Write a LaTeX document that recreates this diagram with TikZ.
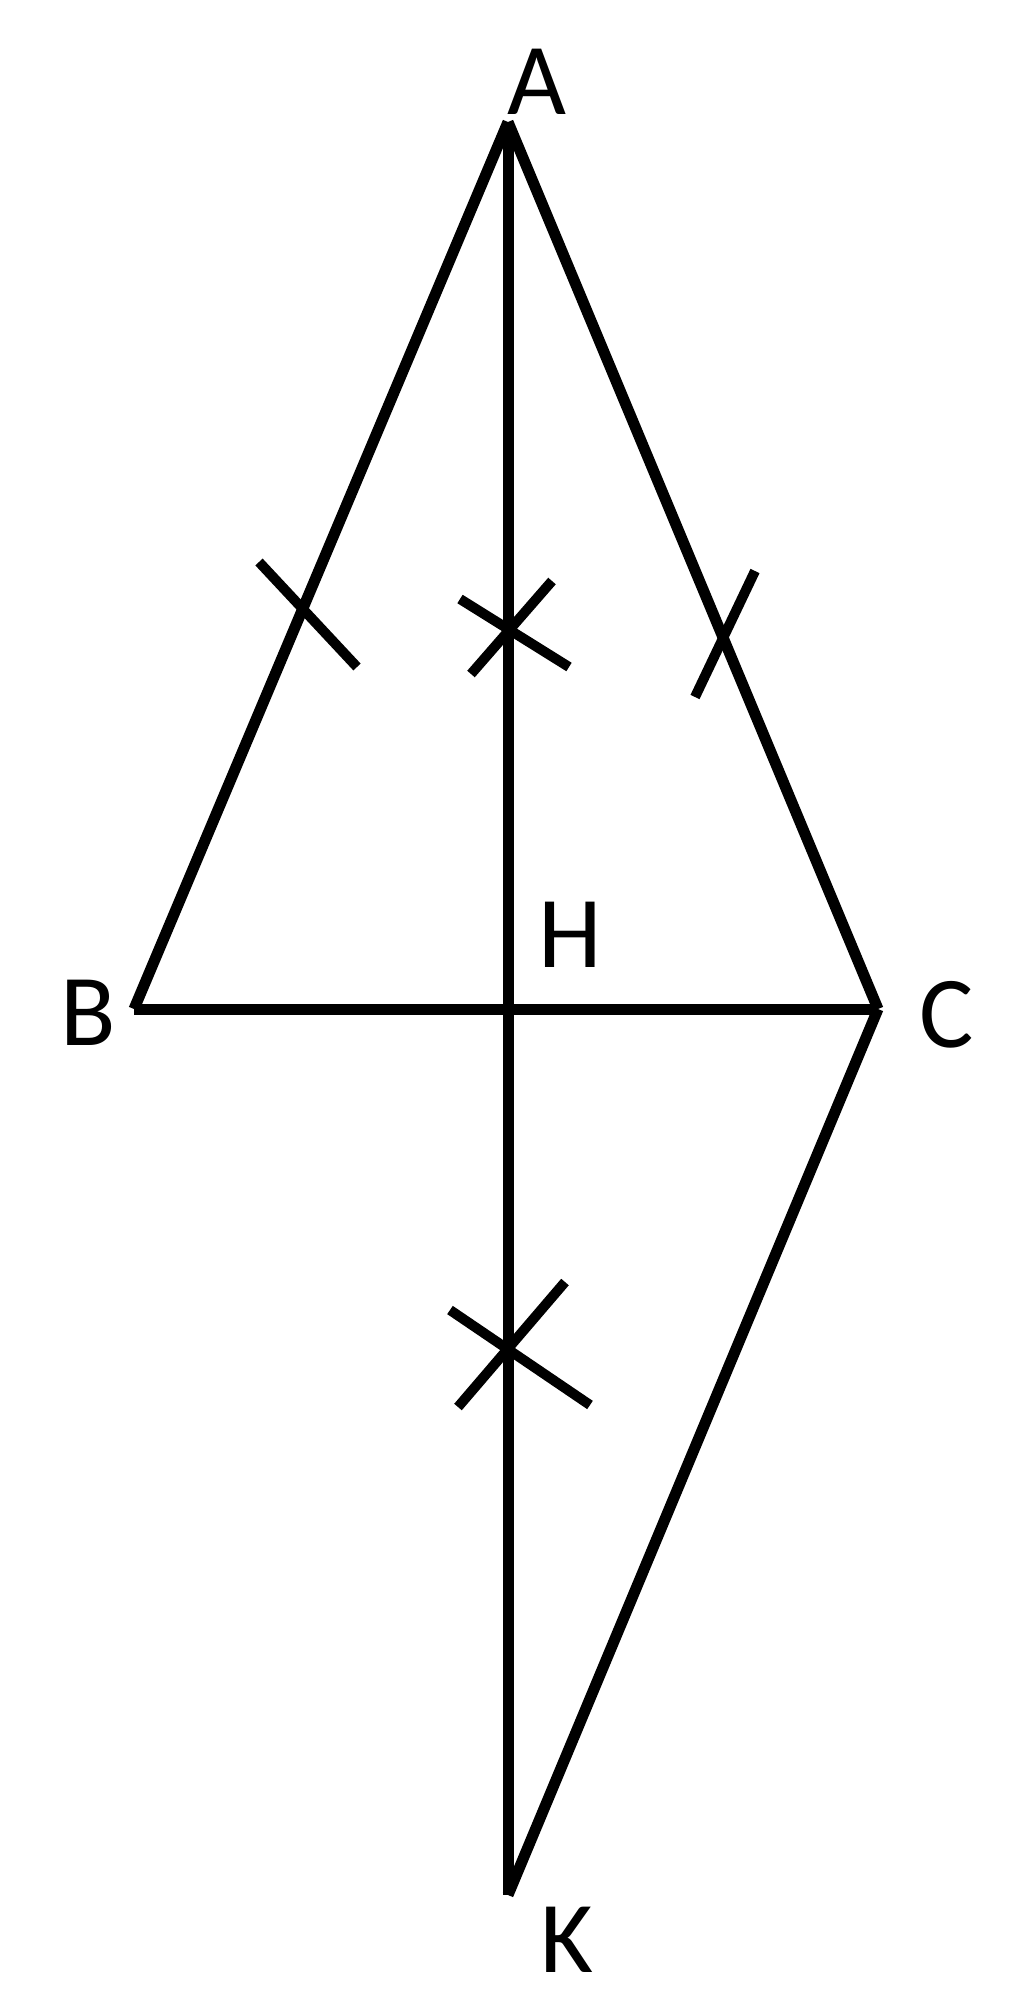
\documentclass[tikz,border=0pt]{standalone}
\usepackage{fontspec}
\setmainfont{Carlito}
\usepackage{tikz}

\tikzset{
  lbl/.style={font=\fontsize{58}{60}\selectfont, inner sep=0pt},
  side/.style={line width=0.22cm},
  tick/.style={line width=0.2cm}
}

\begin{document}
\begin{tikzpicture}[x=0.02cm, y=-0.02cm]
        \useasboundingbox (0,0) rectangle (1024,2013);

        % points
        \coordinate (A) at (508,122);
        \coordinate (B) at (134,1009);
        \coordinate (C) at (878,1009);
        \coordinate (H) at (508,1009);
        \coordinate (K) at (508,1895);

        % draw sides
        \draw[side] (A) -- (B);
        \draw[side] (A) -- (C);
        \draw[side] (A) -- (K);
        \draw[side] (B) -- (C);
        \draw[side] (C) -- (K);

        % draw equal marks
        \foreach \xa/\ya/\xb/\yb in {259/562/357/667, 460/599/569/667, 552/581/471/674,
                                     755/571/695/697, 450/1310/590/1405, 565/1282/458/1407}
            \draw[tick] (\xa,\ya) -- (\xb,\yb);

        % draw labels
        \node[lbl] (labelA) at (537,82) {A};
        \node[lbl] (labelB) at (88,1013) {B};
        \node[lbl] (labelC) at (947,1015) {C};
        \node[lbl] (labelH) at (570,935) {H};
        \node[lbl] (labelK) at (567,1940) {K};
\end{tikzpicture}
\end{document}
